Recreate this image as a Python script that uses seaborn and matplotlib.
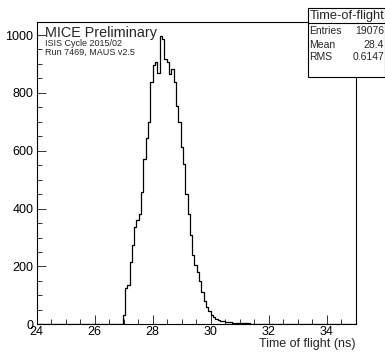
import numpy as np
import pandas as pd
import matplotlib
matplotlib.use("Agg")
import matplotlib.pyplot as plt
from matplotlib.patches import Rectangle
from matplotlib.ticker import MultipleLocator
import seaborn as sns

# ---- data ----
hist_range = (24.0, 35.04)
bin_width = 0.08
first_bin_left = 26.96
counts = [32, 124, 135, 216, 273, 337, 360, 383, 457, 570,
          645, 700, 837, 895, 905, 870, 995, 985, 917, 905,
          865, 883, 837, 756, 699, 612, 555, 450, 383, 308,
          239, 205, 180, 150, 110, 80, 60, 45, 32, 24,
          17, 14, 12, 10, 9, 8, 7, 6, 6, 5,
          4, 4, 3, 3, 3, 2, 2, 2, 2, 1,
          1, 1, 1, 1, 1, 0, 1, 1]
x_ticks = [24, 26, 28, 30, 32, 34]
y_ticks = [0, 200, 400, 600, 800, 1000]
title_text = "MICE Preliminary"
sub1 = "ISIS Cycle 2015/02"
sub2 = "Run 7469, MAUS v2.5"
xlabel = "Time of flight (ns)"
stat_title = "Time-of-flight"
stat_names = ["Entries", "Mean", "RMS"]
stat_values = ["19076", "28.4", "0.6147"]

centers = first_bin_left + bin_width * (np.arange(len(counts)) + 0.5)
df = pd.DataFrame({"tof": centers, "n": np.asarray(counts, dtype=float)})

sns.set_style("ticks")
plt.rcParams["font.family"] = ["Liberation Sans", "DejaVu Sans"]

W, H = 385, 355
fig = plt.figure(figsize=(W / 100, H / 100), dpi=100)
fig.patch.set_facecolor("white")

def fx(x):
    return x / W

def fy(y):
    return 1 - y / H

ax = fig.add_axes([fx(36.7), fy(324.3), fx(355.7) - fx(36.7), fy(22.0) - fy(324.3)])
ax.set_facecolor("white")

sns.histplot(data=df, x="tof", weights="n", binwidth=bin_width, binrange=hist_range,
             element="step", fill=False, color="black", linewidth=0.9, ax=ax)

ax.set_xlim(24, 35)
ax.set_ylim(0, 1045)
ax.set_xticks(x_ticks)
ax.set_xticklabels([str(t) for t in x_ticks])
ax.set_yticks(y_ticks)
ax.set_yticklabels([str(t) for t in y_ticks])
ax.xaxis.set_minor_locator(MultipleLocator(0.5))
ax.yaxis.set_minor_locator(MultipleLocator(50))
ax.tick_params(axis="both", which="major", direction="in", length=6.5, width=0.7,
               color="#333333", labelsize=9, labelcolor="black")
ax.tick_params(axis="both", which="minor", direction="in", length=3.3, width=0.7,
               color="#333333")
ax.tick_params(axis="x", which="major", pad=1.5)
ax.tick_params(axis="y", which="major", pad=2.4)
ax.tick_params(top=False, right=False, which="both")
for s in ax.spines.values():
    s.set_visible(True)
    s.set_linewidth(0.8)
    s.set_color("black")

ax.set_ylabel("")
ax.set_xlabel(xlabel, fontsize=9, ha="right")
ax.xaxis.set_label_coords(1.0, -0.046)

fig.text(fx(45), fy(37.3), title_text, fontsize=10.4, va="baseline", ha="left")
fig.text(fx(45), fy(46.0), sub1, fontsize=6.45, va="baseline", ha="left")
fig.text(fx(45), fy(54.8), sub2, fontsize=6.45, va="baseline", ha="left")

# stats box
bx0, bx1, by0, by1 = 307.7, 384.6, 8.3, 77.3
fig.patches.append(Rectangle((fx(bx0), fy(by1)), fx(bx1) - fx(bx0), fy(by0) - fy(by1),
                             transform=fig.transFigure, facecolor="white",
                             edgecolor="black", linewidth=0.8, zorder=5))
fig.lines.append(plt.Line2D([fx(bx0), fx(bx1)], [fy(22.7), fy(22.7)],
                            transform=fig.transFigure, color="black", linewidth=0.8, zorder=6))
fig.text(fx((bx0 + bx1) / 2 + 0.5), fy(15.6), stat_title, fontsize=9.3, ha="center", va="center", zorder=7)
row_y = [31.0, 44.5, 57.0]
for name, val, ry in zip(stat_names, stat_values, row_y):
    fig.text(fx(309.5), fy(ry), name, fontsize=7.5, ha="left", va="center", zorder=7)
    fig.text(fx(384.0), fy(ry), val, fontsize=7.5, ha="right", va="center", zorder=7)

fig.savefig("out.png", dpi=100, facecolor="white")
